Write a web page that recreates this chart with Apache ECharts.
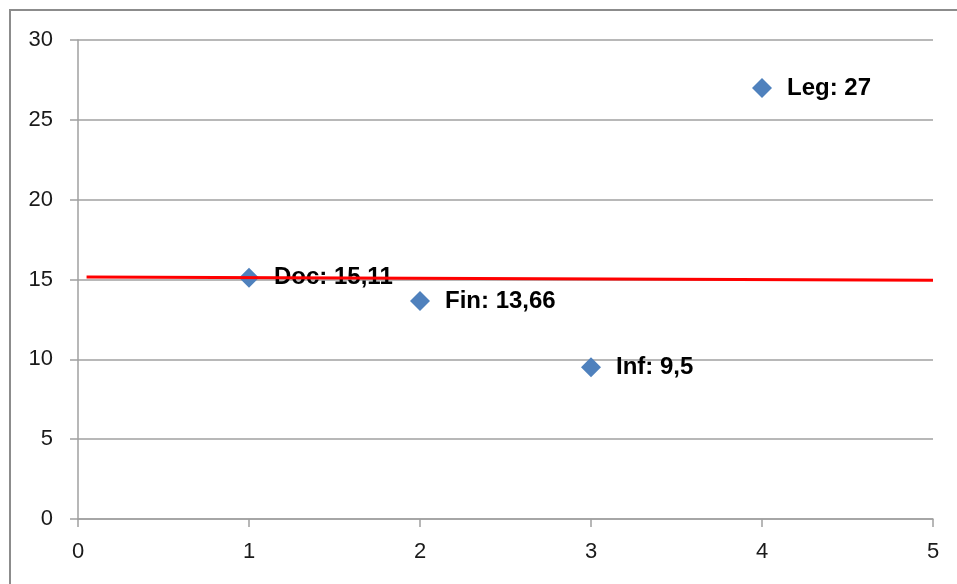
<!DOCTYPE html>
<html>
<head>
<meta charset="utf-8">
<style>
  html, body { margin: 0; padding: 0; background: #fff; }
  #frame { position: absolute; left: 9px; top: 9px; width: 960px; height: 600px; border: 2px solid #8c8c8c; box-sizing: border-box; }
  #chart { position: absolute; left: 0; top: 0; width: 957px; height: 584px; }
</style>
<script src="https://cdn.jsdelivr.net/npm/echarts@6/dist/echarts.min.js"></script>
</head>
<body>
<div id="frame"></div>
<div id="chart"></div>
<script>
// Department scores
const names = ['Doc', 'Fin', 'Inf', 'Leg'];
const xValues = [1, 2, 3, 4];
const yValues = [15.11, 13.66, 9.5, 27];
const valueLabels = ['15,11', '13,66', '9,5', '27'];

// Reference line end points
const lineX = [0.05, 5];
const lineY = [15.15, 14.96];

const xTicks = [0, 1, 2, 3, 4, 5];
const yTicks = [0, 5, 10, 15, 20, 25, 30];

const points = names.map((n, i) => ({
  value: [xValues[i], yValues[i]],
  labelText: n + ': ' + valueLabels[i]
}));

const chart = echarts.init(document.getElementById('chart'), null, { renderer: 'canvas' });
const axisFont = { fontFamily: 'Liberation Sans', fontSize: 22, color: '#1a1a1a' };

chart.setOption({
  animation: false,
  grid: { left: 78, right: 24, top: 40, bottom: 65, containLabel: false },
  xAxis: {
    type: 'value', min: xTicks[0], max: xTicks[xTicks.length - 1], interval: 1,
    axisLine: { show: true, lineStyle: { color: '#a0a0a0', width: 1.5 } },
    axisTick: { show: true, length: 8, lineStyle: { color: '#a0a0a0', width: 1.5 } },
    axisLabel: Object.assign({ margin: 22 }, axisFont),
    splitLine: { show: false }
  },
  yAxis: {
    type: 'value', min: yTicks[0], max: yTicks[yTicks.length - 1], interval: 5,
    axisLine: { show: true, lineStyle: { color: '#a0a0a0', width: 1.5 } },
    axisTick: { show: true, length: 8, lineStyle: { color: '#a0a0a0', width: 1.5 } },
    axisLabel: Object.assign({ margin: 25 }, axisFont),
    splitLine: { show: true, lineStyle: { color: '#a0a0a0', width: 1.5 } }
  },
  series: [
    {
      type: 'line',
      data: lineX.map((x, i) => [x, lineY[i]]),
      symbol: 'none',
      lineStyle: { color: '#ff0000', width: 3 },
      z: 3
    },
    {
      type: 'scatter',
      data: points,
      symbol: 'diamond',
      symbolSize: [20, 20],
      itemStyle: { color: '#4f81bd', opacity: 1 },
      label: {
        show: true,
        position: 'right',
        distance: 15,
        formatter: p => p.data.labelText,
        fontFamily: 'Liberation Sans',
        fontWeight: 'bold',
        fontSize: 24,
        color: '#000'
      },
      z: 2
    }
  ]
});
</script>
</body>
</html>
